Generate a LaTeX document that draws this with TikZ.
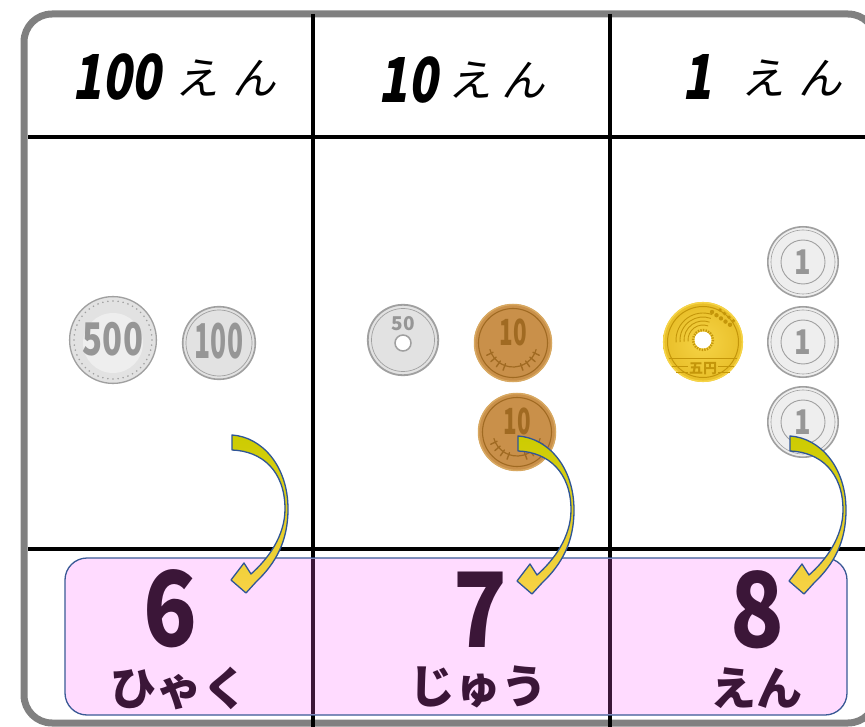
\documentclass[tikz,border=0pt]{standalone}
\usepackage{fontspec}
\newfontfamily\jp{Noto Sans CJK JP}
\newfontfamily\jpsl{Noto Sans CJK JP}[FakeSlant=0.2]
\definecolor{framegray}{RGB}{128,128,128}
\definecolor{pinkfill}{RGB}{255,219,255}
\definecolor{pinkline}{RGB}{58,90,150}
\definecolor{numcol}{RGB}{59,22,56}
\definecolor{arrline}{RGB}{47,85,151}
\definecolor{arrtop}{RGB}{204,204,0}
\definecolor{arrmid}{RGB}{255,255,0}
\definecolor{arrbot}{RGB}{248,210,70}
\definecolor{silverfill}{RGB}{226,226,226}
\definecolor{silverlight}{RGB}{238,238,238}
\definecolor{silverline}{RGB}{160,160,160}
\definecolor{silvertext}{RGB}{150,150,150}
\definecolor{bronze}{RGB}{201,144,74}
\definecolor{bronzeline}{RGB}{216,168,96}
\definecolor{bronzedark}{RGB}{160,106,34}
\definecolor{goldfill}{RGB}{232,190,40}
\definecolor{goldlight}{RGB}{246,212,70}
\definecolor{golddark}{RGB}{196,150,10}
\begin{document}
\begin{tikzpicture}[x=1pt,y=-1pt,
  gridline/.style={line width=3.6pt, black},
  boxline/.style={line width=3.6pt, numcol},
  hdr/.style={inner sep=0pt, font=\jpsl\fontsize{44}{44}\selectfont},
  hdrnum/.style={inner sep=0pt, xscale=0.78, font=\jpsl\bfseries\fontsize{62}{62}\selectfont},
  bignum/.style={inner sep=0pt, xscale=0.85, text=numcol, font=\jp\bfseries\fontsize{104}{104}\selectfont},
  bigkana/.style={inner sep=0pt, text=numcol, font=\jp\bfseries\fontsize{46}{46}\selectfont},
  coinnum/.style={inner sep=0pt, text=silvertext, font=\jp\bfseries},
  yenone/.pic={
    \fill[silverlight] (0,0) circle (36);
    \draw[silverline, line width=1.6pt] (0,0) circle (35.2);
    \draw[silverline, line width=0.6pt] (0,0) circle (32);
    \draw[silverline, line width=0.9pt] (0,0) circle (22);
    \node[coinnum, font=\jp\bfseries\fontsize{34}{34}\selectfont, xscale=0.8] (-n) at (0,0) {1};
  },
  yenten/.pic={
    \fill[bronze] (0,0) circle (39);
    \draw[bronzeline, line width=1.5pt] (0,0) circle (38.5);
    \draw[bronzedark, line width=1.1pt] (0,0) circle (34.5);
    \node[inner sep=0pt, text=bronzedark, xscale=0.62, font=\jp\bfseries\fontsize{36}{36}\selectfont] (-n) at (0,-11) {10};
    \draw[bronzedark, line width=1.2pt] (0,0) ++(165:24) arc (165:15:24);
    \foreach \a in {155,140,125,110,70,55,40,25}
      \draw[bronzedark, line width=1.4pt, line cap=round] (0,0) ++(\a:22) -- ++(\a:7);
  },
  bendarrow/.pic={
    \shadedraw[top color=arrtop, middle color=arrmid, bottom color=arrbot,
      draw=arrline, line width=1.3pt, line join=round]
      (0,0) .. controls (30,2) and (56,31) .. (56,74)
      .. controls (56,106) and (44,128) .. (24,147)
      -- (14,158) -- (-1,145) -- (12,128) -- (19,139)
      .. controls (36,124) and (53,101) .. (53,74)
      .. controls (53,36) and (30,16) .. (0,15) -- cycle;
  }
]
\useasboundingbox (0,0) rectangle (865,727);
\fill[white] (0,0) rectangle (865,727);
% outer frame
\draw[framegray, line width=7pt, rounded corners=28pt] (24,14) rectangle (876,723);
% grid
\coordinate (va1) at (313,14); \coordinate (vb1) at (313,727);
\coordinate (va2) at (610,14); \coordinate (vb2) at (610,727);
\coordinate (ha1) at (28,137); \coordinate (hb1) at (865,137);
\coordinate (ha2) at (28,549); \coordinate (hb2) at (865,549);
\draw[gridline] (va1) -- (vb1);
\draw[gridline] (va2) -- (vb2);
\draw[gridline] (ha1) -- (hb1);
\draw[gridline] (ha2) -- (hb2);
% pink answer box
\draw[pinkline, fill=pinkfill, line width=1.3pt, rounded corners=22pt] (65,558) rectangle (847,715);
\coordinate (pa1) at (313,558.6); \coordinate (pb1) at (313,714.4);
\coordinate (pa2) at (610,558.6); \coordinate (pb2) at (610,714.4);
\draw[boxline] (pa1) -- (pb1);
\draw[boxline] (pa2) -- (pb2);
% headers
\node[hdrnum] (n100) at (117,77) {100};
\node[hdr] (k100) at (226,78) {え\hspace{13pt}ん};
\node[hdrnum] (n10) at (408,80) {10};
\node[hdr] (k10) at (497,80) {え\hspace{10pt}ん};
\node[hdrnum] (n1) at (697,77) {1};
\node[hdr] (k1) at (792,78) {え\hspace{13pt}ん};
% 500 yen
\fill[silverfill] (113,340) circle (44);
\fill[silverlight] (113,343) circle (30);
\draw[silverline, line width=1.3pt] (113,340) circle (43.4);
\foreach \a in {0,7.5,...,352.5}
  \fill[silverline] (113,340) ++(\a:39) circle (0.9);
\node[coinnum, xscale=0.73, font=\jp\bfseries\fontsize{45}{45}\selectfont] (c500) at (113,339) {500};
% 100 yen
\fill[silverfill] (219,343) circle (37);
\draw[silverline, line width=1.6pt] (219,343) circle (36.3);
\draw[silverline, line width=0.7pt] (219,343) circle (33);
\node[coinnum, xscale=0.55, font=\jp\bfseries\fontsize{48}{48}\selectfont] (c100) at (219,341) {100};
% 50 yen
\fill[silverfill] (403,340) circle (36);
\draw[silverline, line width=1.8pt] (403,340) circle (35.2);
\draw[silverline, line width=0.7pt] (403,340) circle (31.5);
\draw[silverline, line width=1.5pt, fill=white] (403,343) circle (8);
\node[coinnum, font=\jp\bfseries\fontsize{19}{19}\selectfont] (c50) at (403,324) {50};
% 10 yen
\pic (c10a) at (513,343) {yenten};
\pic (c10b) at (517,432) {yenten};
% 5 yen
\shade[inner color=goldlight, outer color=goldfill] (703,342) circle (40);
\draw[goldlight, line width=1.5pt] (703,342) circle (39.3);
\draw[golddark, line width=1pt] (703,342) circle (35.5);
\foreach \r in {15,19,23,27}
  \draw[golddark, line width=0.9pt] (703,340) ++(175:\r) arc (175:290:\r);
\foreach \i in {0,1,2,3,4}
  \fill[golddark] (712,312) ++(\i*4.5,\i*3.2) circle (2.2);
\foreach \i in {0,1,2,3}
  \fill[golddark] (720,310) ++(\i*4.5,\i*3.6) circle (1.9);
\fill[white] (703,340) circle (8.5);
\draw[golddark, line width=2.4pt, dash pattern=on 1.3pt off 1.3pt] (703,340) circle (10);
\draw[golddark, line width=0.9pt] (669,358) -- (737,358);
\draw[golddark, line width=0.9pt] (672,366) -- (688,366) (718,366) -- (734,366);
\draw[golddark, line width=0.9pt] (676,372) -- (688,372) (718,372) -- (730,372);
\node[inner sep=0pt, text=golddark, font=\jp\bfseries\fontsize{14}{14}\selectfont] (c5) at (703,369) {五円};
% 1 yen
\pic (c1a) at (803,262) {yenone};
\pic (c1b) at (803,342) {yenone};
\pic (c1c) at (803,422) {yenone};
% answers
\node[bignum] (d6) at (170,609) {6};
\node[bignum] (d7) at (480,610) {7};
\node[bignum] (d8) at (757,610) {8};
\node[bigkana] (r6) at (179,688) {ひゃく};
\node[bigkana] (r7) at (478,687) {じゅう};
\node[bigkana] (r8) at (756,688) {えん};
% arrows
\pic (ar1) at (232,435) {bendarrow};
\pic (ar2) at (518,436) {bendarrow};
\pic (ar3) at (790,436) {bendarrow};
\end{tikzpicture}
\end{document}
